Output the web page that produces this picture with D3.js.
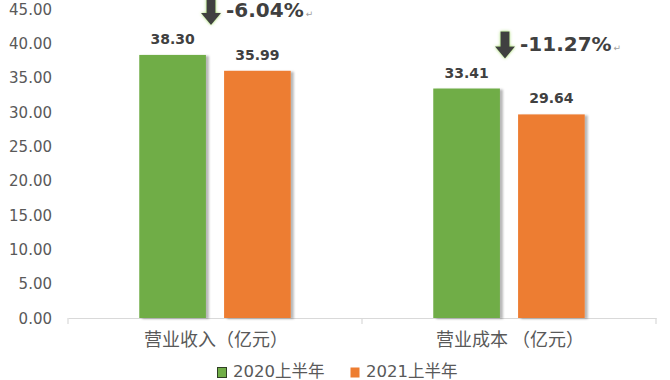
<!DOCTYPE html>
<html><head><meta charset="utf-8">
<script src="https://cdn.jsdelivr.net/npm/d3@7"></script>
<style>body{margin:0;background:#fff}svg{display:block}</style>
</head><body>
<svg id="c" width="670" height="380"></svg>
<script>
const categories = ["营业收入（亿元）", "营业成本 （亿元）"];
const seriesNames = ["2020上半年", "2021上半年"];
const values2020 = [38.30, 33.41];
const values2021 = [35.99, 29.64];
const changes = ["-6.04%", "-11.27%"];
const yTicks = [0, 5, 10, 15, 20, 25, 30, 35, 40, 45];
const colors = ["#70ad47", "#ed7d31"];

const svg = d3.select("#c");
const FONT = "'DejaVu Sans','Noto Sans CJK SC',sans-serif";
const CJK = "'Noto Sans CJK SC',sans-serif";

const defs = svg.append("defs");
const sh = defs.append("filter").attr("id","sh").attr("x","-20%").attr("y","-20%").attr("width","150%").attr("height","140%");
sh.append("feDropShadow").attr("dx",3).attr("dy",1).attr("stdDeviation",1.3).attr("flood-color","#000").attr("flood-opacity",0.28);
const gl = defs.append("filter").attr("id","gl").attr("x","-50%").attr("y","-50%").attr("width","200%").attr("height","200%");
gl.append("feDropShadow").attr("dx",0).attr("dy",0).attr("stdDeviation",1.6).attr("flood-color","#92d050").attr("flood-opacity",0.9);

const x0 = d3.scaleBand().domain(categories).range([68, 656]).paddingInner(0).paddingOuter(0);
const x1 = d3.scaleBand().domain(seriesNames).range([0, x0.bandwidth()]).paddingInner(0.214).paddingOuter(0.84);
const y = d3.scaleLinear().domain([0, 45]).range([318, 8.9]);

// y tick labels
const ya = d3.axisLeft(y).tickValues(yTicks).tickFormat(d3.format(".2f")).tickSize(0).tickPadding(0);
const yg = svg.append("g").attr("transform","translate(52,0)").call(ya);
yg.select(".domain").remove();
yg.selectAll("text").attr("font-family",FONT).attr("font-size",15).attr("fill","#595959").attr("dy","0.35em");

// x axis
const xa = d3.axisBottom(x0).tickSize(0).tickFormat("");
const xg = svg.append("g").attr("transform","translate(0,318)").call(xa);
xg.select(".domain").attr("stroke","#d9d9d9").attr("stroke-width",1.2);
[68, 68 + x0.bandwidth(), 656].forEach(xx => {
  svg.append("line").attr("x1",xx).attr("x2",xx).attr("y1",318).attr("y2",324).attr("stroke","#d9d9d9").attr("stroke-width",1.2);
});
svg.selectAll(".cat").data(categories).enter().append("text")
  .attr("x", d => x0(d) + x0.bandwidth()/2 + 1)
  .attr("y", 346)
  .attr("text-anchor","middle")
  .attr("font-family",CJK).attr("font-size",18).attr("fill","#595959")
  .text(d => d);

// bars
const data = categories.map((c,i) => ({c, vals:[values2020[i], values2021[i]], change: changes[i]}));
const groups = svg.selectAll(".grp").data(data).enter().append("g")
  .attr("transform", d => `translate(${x0(d.c)},0)`);
groups.selectAll("rect").data(d => d.vals.map((v,j) => ({v, s: seriesNames[j], j}))).enter().append("rect")
  .attr("x", d => x1(d.s)).attr("width", x1.bandwidth())
  .attr("y", d => y(d.v)).attr("height", d => y(0) - y(d.v))
  .attr("fill", d => colors[d.j]).attr("filter","url(#sh)");
groups.selectAll(".lbl").data(d => d.vals.map((v,j) => ({v, s: seriesNames[j], j}))).enter().append("text")
  .attr("x", d => x1(d.s) + x1.bandwidth()/2)
  .attr("y", d => y(d.v) - 11)
  .attr("text-anchor","middle")
  .attr("font-family",FONT).attr("font-size",14).attr("font-weight","bold").attr("fill","#404040")
  .text(d => d3.format(".2f")(d.v));

// change annotations
groups.each(function(d){
  const g = d3.select(this);
  const cx = x0.bandwidth()/2 - 4;
  const bottom = y(d3.max(d.vals)) - 30;
  const top = bottom - 27;
  const headTop = bottom - 12;
  const p = d3.path();
  p.moveTo(cx-4.5, top); p.lineTo(cx+4.5, top); p.lineTo(cx+4.5, headTop);
  p.lineTo(cx+10, headTop); p.lineTo(cx, bottom); p.lineTo(cx-10, headTop);
  p.lineTo(cx-4.5, headTop); p.closePath();
  g.append("path").attr("d", p.toString()).attr("fill","#404040").attr("filter","url(#gl)");
  const t = g.append("text").attr("x", cx + 15).attr("y", bottom - 7.5)
    .attr("font-family",FONT).attr("font-weight","bold").attr("font-size",20).attr("fill","#404040");
  t.append("tspan").text(d.change);
  t.append("tspan").attr("font-size",9).attr("font-weight","normal").attr("fill","#a0a0a0").attr("dx",2).text("↵");
});

// legend
const legX = [217, 350];
const leg = svg.selectAll(".leg").data(seriesNames).enter().append("g")
  .attr("transform",(d,i)=>`translate(${legX[i]},0)`);
leg.append("rect").attr("x",0.5).attr("y",367.5).attr("width",9).attr("height",10)
  .attr("fill",(d,i)=>colors[i]).attr("stroke",(d,i)=> i===0 ? "#2f3f24" : "none").attr("stroke-width",1);
leg.append("text").attr("x",16).attr("y",377)
  .attr("font-family",FONT).attr("font-size",16.5).attr("fill","#595959").text(d=>d);
</script>
</body></html>
